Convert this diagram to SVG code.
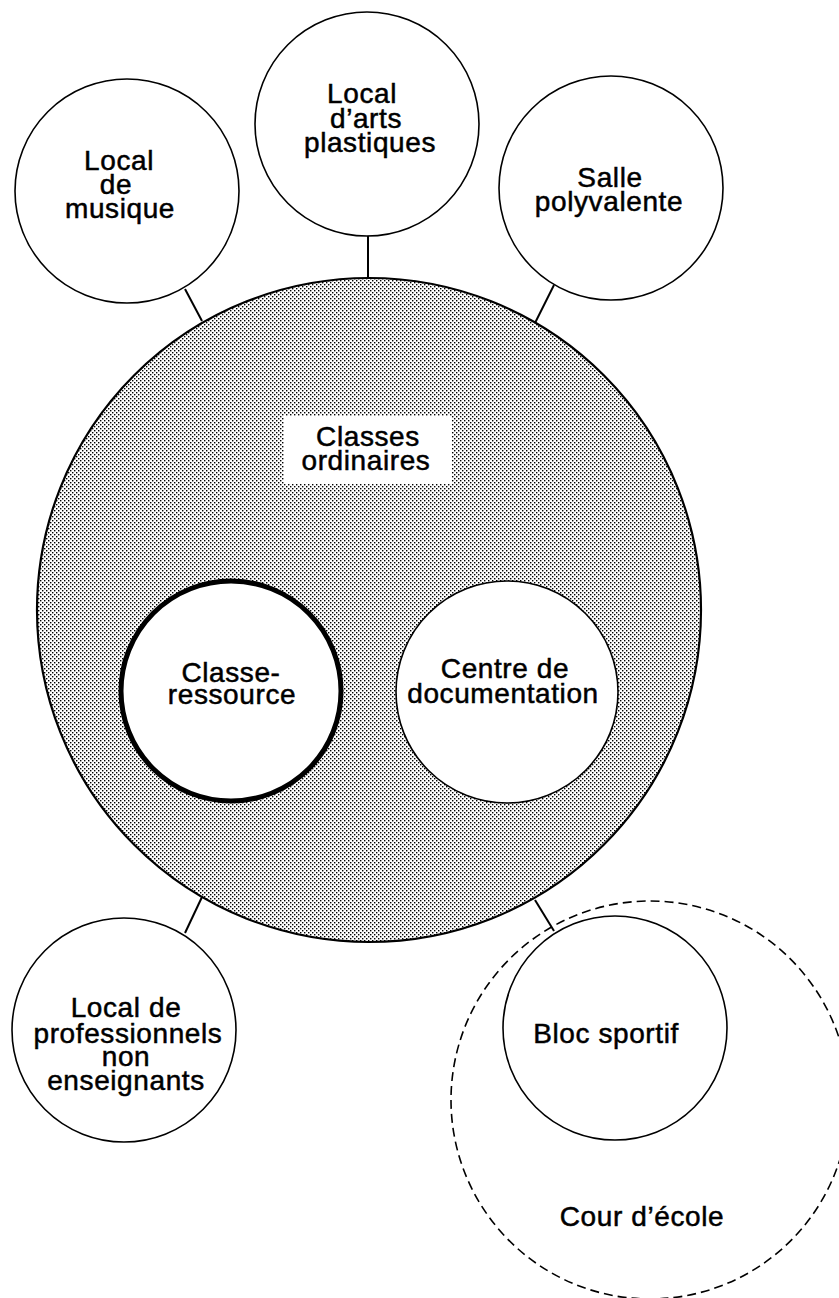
<svg xmlns="http://www.w3.org/2000/svg" width="839" height="1298" viewBox="0 0 839 1298">
<defs>
<pattern id="stipple" width="4" height="4" patternUnits="userSpaceOnUse">
<rect width="4" height="4" fill="#ffffff"/>
<rect x="0" y="0" width="1.4" height="1.4" fill="#000"/>
<rect x="2" y="2" width="1.4" height="1.4" fill="#000"/>
</pattern>
</defs>
<style>
.node{fill:#fff;stroke:#000;stroke-width:1.6}
.thick{fill:#fff;stroke:#000;stroke-width:5}
.main{fill:url(#stipple);stroke:#000;stroke-width:2.2}
.dash{fill:none;stroke:#000;stroke-width:1.6;stroke-dasharray:9 5}
.conn{stroke:#000;stroke-width:2;fill:none}
text{font-family:"Liberation Sans",Arial,sans-serif;font-size:28px;letter-spacing:0.6px;fill:#000;stroke:#000;stroke-width:0.5px;text-anchor:middle}
</style>
<rect width="839" height="1298" fill="#fff"/>

<g id="connectors">
<line class="conn" x1="185" y1="289" x2="202" y2="321"/>
<line class="conn" x1="368" y1="236" x2="368" y2="278"/>
<line class="conn" x1="554" y1="285" x2="535" y2="323"/>
<line class="conn" x1="185" y1="933" x2="202" y2="897"/>
<line class="conn" x1="535" y1="900" x2="554" y2="931"/>
</g>

<g id="classes-ordinaires">
<circle class="main" cx="369" cy="610" r="332"/>
<rect x="284" y="416" width="168" height="68" fill="#fff"/>
<text x="368" y="446">Classes</text>
<text x="366" y="470">ordinaires</text>
</g>

<g id="local-musique">
<circle class="node" cx="127" cy="191" r="112"/>
<text x="119" y="170">Local</text>
<text x="116" y="194">de</text>
<text x="120" y="218">musique</text>
</g>

<g id="local-arts">
<circle class="node" cx="367" cy="124" r="112"/>
<text x="362" y="103">Local</text>
<text x="366" y="128">d’arts</text>
<text x="370" y="152">plastiques</text>
</g>

<g id="salle-polyvalente">
<circle class="node" cx="611" cy="188" r="112"/>
<text x="610" y="187">Salle</text>
<text x="609" y="211">polyvalente</text>
</g>

<g id="classe-ressource">
<circle class="thick" cx="231" cy="691" r="110"/>
<text x="231" y="682">Classe-</text>
<text x="232" y="704">ressource</text>
</g>

<g id="centre-documentation">
<circle class="node" cx="507" cy="692" r="111"/>
<text x="505" y="678">Centre de</text>
<text x="503" y="703">documentation</text>
</g>

<g id="local-professionnels">
<circle class="node" cx="124" cy="1030" r="112"/>
<text x="126" y="1017">Local de</text>
<text x="128" y="1043">professionnels</text>
<text x="126" y="1066">non</text>
<text x="126" y="1090">enseignants</text>
</g>

<g id="cour-ecole">
<circle class="dash" cx="650" cy="1100" r="199"/>
<text x="642" y="1226">Cour d’école</text>
</g>

<g id="bloc-sportif">
<circle class="node" cx="615" cy="1028" r="112"/>
<text x="606" y="1043">Bloc sportif</text>
</g>
</svg>
